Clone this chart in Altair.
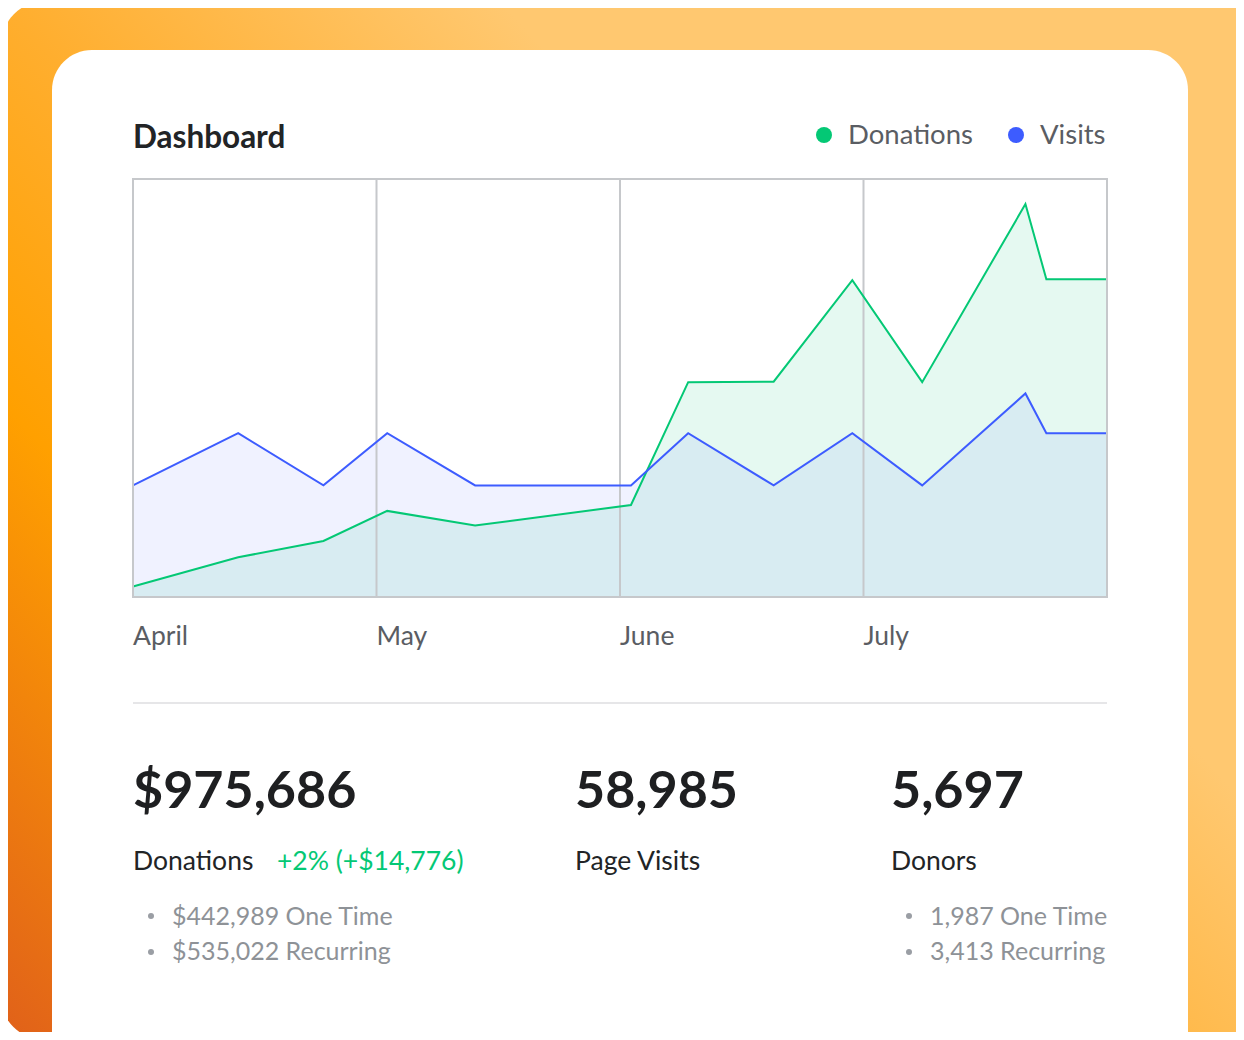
import altair as alt
import pandas as pd

# ---------------- data ----------------
TITLE = "Dashboard"
SERIES = ["Donations", "Visits"]
MONTHS = ["April", "May", "June", "July"]
MONTH_POS = [0, 1, 2, 3]

# x position in months since start of April
X = [0, 0.432, 0.782, 1.044, 1.405, 2.045, 2.280, 2.631, 2.954, 3.241, 3.665, 3.751, 4.0]
DONATIONS = [2.5, 9.5, 13.4, 20.6, 17.1, 22.0, 51.4, 51.5, 75.8, 51.4, 94.0, 76.0, 76.0]
VISITS = [26.7, 39.2, 26.7, 39.2, 26.7, 26.7, 39.2, 26.7, 39.2, 26.7, 48.7, 39.2, 39.2]

STAT_VALUES = ["$975,686", "58,985", "5,697"]
STAT_LABELS = ["Donations", "Page Visits", "Donors"]
DONATION_CHANGE = "+2% (+$14,776)"
DONATION_BREAKDOWN = ["$442,989 One Time", "$535,022 Recurring"]
DONOR_BREAKDOWN = ["1,987 One Time", "3,413 Recurring"]

# ---------------- style ----------------
GREEN = "#04C875"
BLUE = "#3D5CFF"
GRID = "#C6C8CB"
FONT = "Lato"
W, H = 974, 418

df = pd.DataFrame({
    "x": X * 2,
    "value": DONATIONS + VISITS,
    "series": [SERIES[0]] * len(X) + [SERIES[1]] * len(X),
})
months_df = pd.DataFrame({"month": MONTHS, "pos": MONTH_POS})
one = pd.DataFrame({"k": [0]})

xs = alt.Scale(domain=[0, 4], nice=False, zero=False)
ys = alt.Scale(domain=[0, 100], nice=False, zero=True)

base = alt.Chart(df).encode(
    x=alt.X("x:Q", scale=xs, axis=None),
    y=alt.Y("value:Q", scale=ys, axis=None),
)

orange = alt.Chart(one).mark_rect(
    fill=alt.Gradient(
        gradient="linear",
        x1=0, y1=1, x2=0.726, y2=0.46,
        stops=[
            alt.GradientStop(color="#E0601A", offset=0),
            alt.GradientStop(color="#FFA000", offset=0.406),
            alt.GradientStop(color="#FFAE2E", offset=0.659),
            alt.GradientStop(color="#FFC870", offset=1),
        ],
    ),
    cornerRadiusTopLeft=48,
    cornerRadiusBottomLeft=45,
).encode(x=alt.value(-133), x2=alt.value(1167), y=alt.value(-179), y2=alt.value(861))

card = alt.Chart(one).mark_rect(
    fill="white", cornerRadiusTopLeft=40, cornerRadiusTopRight=40
).encode(x=alt.value(-81), x2=alt.value(1055), y=alt.value(-129), y2=alt.value(921))

area_d = base.transform_filter(alt.datum.series == SERIES[0]).mark_area(
    color=GREEN, fillOpacity=0.1, strokeWidth=0
)
area_v = base.transform_filter(alt.datum.series == SERIES[1]).mark_area(
    color=BLUE, fillOpacity=0.08, strokeWidth=0
)

grid = alt.Chart(months_df).mark_rule(color=GRID, strokeWidth=2).encode(
    x=alt.X("pos:Q", scale=xs, axis=None), y=alt.value(0), y2=alt.value(H)
)

line_d = base.transform_filter(alt.datum.series == SERIES[0]).mark_line(
    color=GREEN, strokeWidth=2
)
line_v = base.transform_filter(alt.datum.series == SERIES[1]).mark_line(
    color=BLUE, strokeWidth=2
)

border = alt.Chart(one).mark_rect(
    fill="transparent", stroke=GRID, strokeWidth=2
).encode(x=alt.value(0), x2=alt.value(W), y=alt.value(0), y2=alt.value(H))

month_labels = alt.Chart(months_df).mark_text(
    align="left", baseline="alphabetic", font=FONT, fontSize=26.5, color="#5A5D63"
).encode(x=alt.X("pos:Q", scale=xs, axis=None), y=alt.value(466), text="month:N")

separator = alt.Chart(one).mark_rule(color="#E6E6E8", strokeWidth=2).encode(
    x=alt.value(0), x2=alt.value(W), y=alt.value(524)
)


def txt(s, x, y, size, color, weight="normal"):
    return alt.Chart(one).mark_text(
        text=s, align="left", baseline="alphabetic", font=FONT,
        fontSize=size, fontWeight=weight, color=color,
    ).encode(x=alt.value(x), y=alt.value(y))


def dot(x, y, size, color):
    return alt.Chart(one).mark_circle(size=size, color=color, opacity=1).encode(
        x=alt.value(x), y=alt.value(y)
    )


layers = [orange, card, area_d, area_v, grid, line_d, line_v, border,
          month_labels, separator]

layers.append(txt(TITLE, 0, -31, 31.5, "#222426", "bold"))
layers.append(dot(691, -44, 256, GREEN))
layers.append(txt(SERIES[0], 715, -35, 27.5, "#5A5D63"))
layers.append(dot(883, -44, 256, BLUE))
layers.append(txt(SERIES[1], 907, -35, 27.5, "#5A5D63"))

stat_x = [0, 442, 758]
for sv, sl, sx in zip(STAT_VALUES, STAT_LABELS, stat_x):
    layers.append(txt(sv, sx, 629, 52, "#1E1F21", "bold"))
    layers.append(txt(sl, sx, 691, 26.5, "#222426"))
layers.append(txt(DONATION_CHANGE, 144, 691, 26.5, "#04C875"))

BULLET = "#9A9EA4"
for i, s in enumerate(DONATION_BREAKDOWN):
    layers.append(dot(18, 737 + 36 * i, 36, BULLET))
    layers.append(txt(s, 39, 746 + 35 * i, 25, "#8E9297"))
for i, s in enumerate(DONOR_BREAKDOWN):
    layers.append(dot(776, 737 + 36 * i, 36, BULLET))
    layers.append(txt(s, 797, 746 + 35 * i, 25, "#8E9297"))

chart = alt.layer(*layers).properties(
    width=W, height=H,
    autosize=alt.AutoSizeParams(type="none"),
    padding={"left": 125, "top": 171, "right": 129, "bottom": 435},
    background="white",
).configure_view(strokeWidth=0)

chart.save("out.html", embed_options={"renderer": "svg", "actions": False})
